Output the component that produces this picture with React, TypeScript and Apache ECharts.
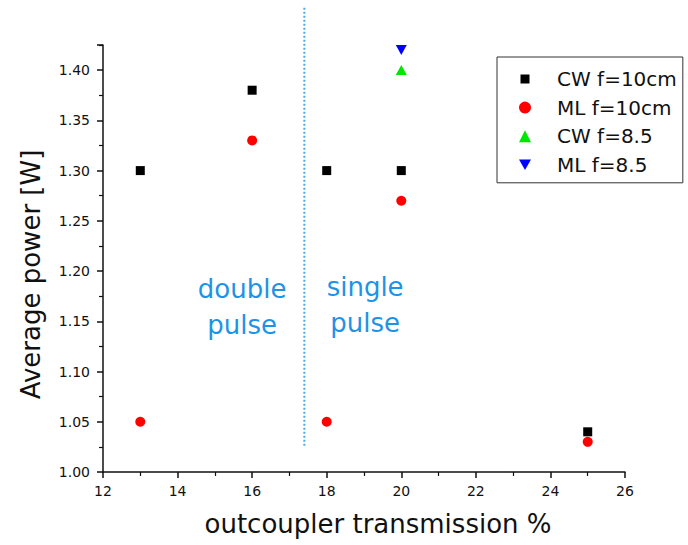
import React, { useEffect, useRef } from "react";
import * as echarts from "echarts";

// ---- data ----
const seriesNames = ["CW f=10cm", "ML f=10cm", "CW f=8.5", "ML f=8.5"];
const transmission10 = [13, 16, 18, 20, 25];
const cwF10 = [1.3, 1.38, 1.3, 1.3, 1.04];
const mlF10 = [1.05, 1.33, 1.05, 1.27, 1.03];
const transmission85 = [20];
const cwF85 = [1.4];
const mlF85 = [1.42];

// axis ranges
const xMin = 12;
const xMax = 26;
const xInterval = 2;
const yMin = 1.0;
const yMax = 1.425;
const yInterval = 0.05;

// annotations (data coordinates)
const dividerX = 17.4;
const dividerY = [1.025, 1.462];
const annotations = [
  { text: "double\npulse", x: 15.73, y: 1.164 },
  { text: "single\npulse", x: 19.03, y: 1.166 },
];

const FONT = "DejaVu Sans";
const DOWN_TRI = "path://M0,0L10,0L5,8.66Z";
const SQUARE_ICON = "path://M0,0M12,12M1.5,1.5h9v9h-9z";

export default function App() {
  const ref = useRef<HTMLDivElement>(null);

  useEffect(() => {
    if (!ref.current) return;
    const chart = echarts.init(ref.current, undefined, { renderer: "svg" });

    const zip = (xs: number[], ys: number[]) => xs.map((x, i) => [x, ys[i]]);

    const option: any = {
      animation: false,
      backgroundColor: "#ffffff",
      grid: { left: 103, right: 63, top: 45, bottom: 73, containLabel: false },
      legend: {
        orient: "vertical",
        left: 497,
        top: 57,
        borderColor: "#333",
        borderWidth: 1,
        borderRadius: 0,
        padding: [12, 6, 8, 22],
        itemGap: 8.6,
        itemWidth: 12,
        itemHeight: 12,
        textStyle: {
          fontFamily: FONT,
          fontSize: 20,
          color: "#111",
          lineHeight: 20,
          padding: [0, 0, 0, 21],
        },
        data: [
          { name: seriesNames[0], icon: SQUARE_ICON },
          { name: seriesNames[1], icon: "circle" },
          { name: seriesNames[2], icon: "triangle" },
          { name: seriesNames[3], icon: DOWN_TRI },
        ],
      },
      xAxis: {
        type: "value",
        min: xMin,
        max: xMax,
        interval: xInterval,
        name: "outcoupler transmission %",
        nameLocation: "middle",
        nameGap: 39,
        nameTextStyle: {
          fontFamily: FONT,
          fontSize: 26,
          color: "#111",
          padding: [0, 0, 0, 28],
        },
        axisLine: { show: true, onZero: false, lineStyle: { color: "#111", width: 1.5 } },
        axisTick: { show: true, inside: false, length: 6, lineStyle: { color: "#111", width: 1.5 } },
        minorTick: { show: true, splitNumber: 2, length: 4, lineStyle: { color: "#111", width: 1.2 } },
        axisLabel: { fontFamily: FONT, fontSize: 14, color: "#111", margin: 12 },
        splitLine: { show: false },
      },
      yAxis: {
        type: "value",
        min: yMin,
        max: yMax,
        interval: yInterval,
        name: "Average power [W]",
        nameLocation: "middle",
        nameRotate: 90,
        nameGap: 59,
        nameTextStyle: {
          fontFamily: FONT,
          fontSize: 26,
          color: "#111",
          padding: [0, 32, 0, 0],
        },
        axisLine: { show: true, onZero: false, lineStyle: { color: "#111", width: 1.5 } },
        axisTick: { show: true, inside: false, length: 6, lineStyle: { color: "#111", width: 1.5 } },
        minorTick: { show: true, splitNumber: 2, length: 4, lineStyle: { color: "#111", width: 1.2 } },
        axisLabel: {
          fontFamily: FONT,
          fontSize: 14,
          color: "#111",
          margin: 13,
          showMaxLabel: false,
          formatter: (v: number) => v.toFixed(2),
        },
        splitLine: { show: false },
      },
      series: [
        {
          name: seriesNames[0],
          type: "scatter",
          symbol: "rect",
          symbolSize: 9,
          itemStyle: { color: "#000000", opacity: 1 },
          data: zip(transmission10, cwF10),
        },
        {
          name: seriesNames[1],
          type: "scatter",
          symbol: "circle",
          symbolSize: 10,
          itemStyle: { color: "#ff0000", opacity: 1 },
          data: zip(transmission10, mlF10),
        },
        {
          name: seriesNames[2],
          type: "scatter",
          symbol: "triangle",
          symbolSize: [11, 10],
          itemStyle: { color: "#00e600", opacity: 1 },
          data: zip(transmission85, cwF85),
        },
        {
          name: seriesNames[3],
          type: "scatter",
          symbol: DOWN_TRI,
          symbolSize: [11, 10],
          itemStyle: { color: "#0000ff", opacity: 1 },
          data: zip(transmission85, mlF85),
        },
      ],
    };

    chart.setOption(option);

    const top = chart.convertToPixel({ gridIndex: 0 }, [dividerX, dividerY[1]]) as number[];
    const bottom = chart.convertToPixel({ gridIndex: 0 }, [dividerX, dividerY[0]]) as number[];
    const graphics: any[] = [
      {
        type: "line",
        shape: { x1: top[0], y1: top[1], x2: bottom[0], y2: bottom[1] },
        style: { stroke: "#4fa8e2", lineWidth: 2, lineDash: [2, 2] },
        silent: true,
      },
    ];
    annotations.forEach((a) => {
      const p = chart.convertToPixel({ gridIndex: 0 }, [a.x, a.y]) as number[];
      graphics.push({
        type: "text",
        x: p[0],
        y: p[1],
        style: {
          text: a.text,
          fontFamily: FONT,
          fontSize: 26,
          lineHeight: 36,
          fill: "#1e93e6",
          align: "center",
          verticalAlign: "middle",
        },
        silent: true,
      });
    });
    chart.setOption({ graphic: graphics });

    return () => chart.dispose();
  }, []);

  return (
    <div
      ref={ref}
      style={{ position: "absolute", left: 0, top: 0, width: 688, height: 545 }}
    />
  );
}
